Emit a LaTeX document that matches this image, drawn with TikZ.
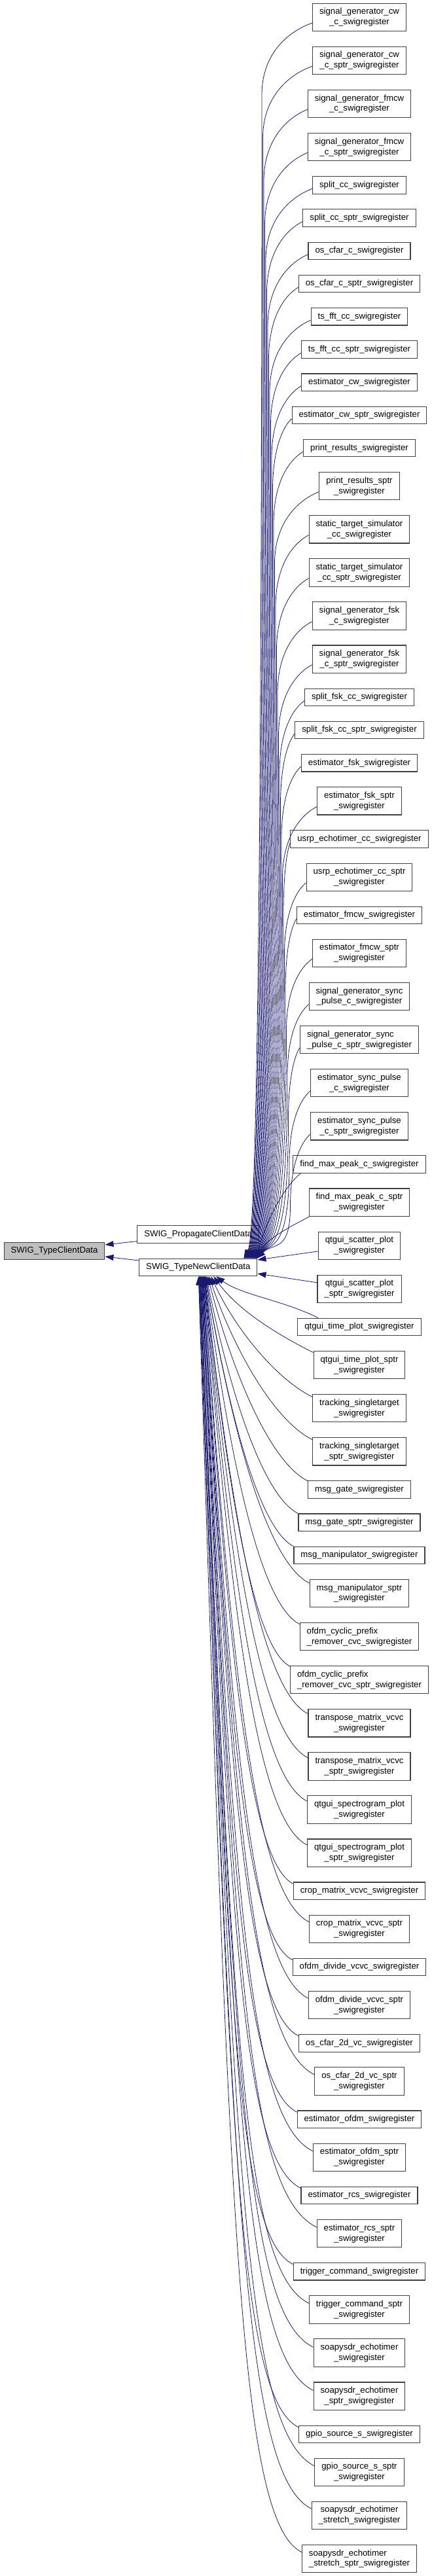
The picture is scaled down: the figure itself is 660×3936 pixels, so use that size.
\documentclass[tikz,border=0pt]{standalone}
\usepackage{fontspec}
\setmainfont{Liberation Sans}
\usetikzlibrary{arrows.meta,calc}
\definecolor{edgeblue}{HTML}{191970}
\definecolor{nodeline}{HTML}{404040}
\definecolor{nodegrey}{HTML}{BFBFBF}
\newcommand\nf{\fontsize{13.2pt}{15.9pt}\selectfont}
\tikzset{
 nbox/.style={draw=nodeline, line width=1.1pt, fill=white, inner xsep=10.5pt, inner ysep=0pt, align=center, font=\nf},
 sbox/.style={nbox, minimum height=26.43pt, text height=9.6pt, text depth=2.9pt},
 dbox/.style={nbox, minimum height=42.29pt},
 lbox/.style={dbox, align=left},
 cedge/.style={draw=edgeblue, line width=0.8pt, -{Triangle[length=13pt,width=9pt,fill=edgeblue]}}
}
% upper edge: #1 node, #2 exit fraction from bottom, #3 band x, #4 tip offset from TN.north
\newcommand\upedge[4]{%
 \draw[cedge] let \p1=($(#1.south west)!#2!(#1.north west)$), \p2=($(TN.north)+(#4pt,0pt)$), \p3=(#3pt,\y1-110pt) in
  (\p1) .. controls ({\x1-0.45*(\x1-\x3)}, \y1-12pt) and (\x3,\y1-45pt) .. (\p3)
  .. controls (\x3,{\y3+0.9*(\y2-\y3)}) and ({\x2+0.5*(\x3-\x2)}, \y2+25pt) .. (\p2);
}
% lower edge: #1 entry point, #2 tip offset from TN.south
\newcommand\lowedge[2]{%
 \draw[cedge] let \p1=(#1), \p2=($(TN.south)+(#2pt,0pt)$),
   \n1={\x1-\x2}, \n2={\y2-\y1}, \n3={min(1,max(0,(\n2-185)/1300))} in
   (\p1) .. controls ({\x1-(0.35+0.25*\n3)*\n1}, {\y1+0.5*(0.35+0.25*\n3)*\n1})
            and ({\x2+(0.25+0.05*\n3)*\n1}, {\y2-(0.45+0.3*\n3)*\n2}) .. (\p2);
}
\begin{document}
\begin{tikzpicture}[x=1pt,y=1pt]
\useasboundingbox (0,0) rectangle (660,-3936);
\node[sbox, fill=nodegrey] (TC) at (83,-1911.5) {SWIG\_TypeClientData};
\node[sbox] (PC) at (302.8,-1886) {SWIG\_PropagateClientData};
\node[sbox] (TN) at (302.8,-1936.5) {SWIG\_TypeNewClientData};

\node[dbox] (n1) at (549,-26.43) {signal\_generator\_cw\\\_c\_swigregister};
\node[dbox] (n2) at (549,-92.52) {signal\_generator\_cw\\\_c\_sptr\_swigregister};
\node[dbox] (n3) at (549,-158.60) {signal\_generator\_fmcw\\\_c\_swigregister};
\node[dbox] (n4) at (549,-224.69) {signal\_generator\_fmcw\\\_c\_sptr\_swigregister};
\node[sbox] (n5) at (549,-282.84) {split\_cc\_swigregister};
\node[sbox] (n6) at (549,-333.07) {split\_cc\_sptr\_swigregister};
\node[sbox] (n7) at (549,-383.29) {os\_cfar\_c\_swigregister};
\node[sbox] (n8) at (549,-433.51) {os\_cfar\_c\_sptr\_swigregister};
\node[sbox] (n9) at (549,-483.74) {ts\_fft\_cc\_swigregister};
\node[sbox] (n10) at (549,-533.96) {ts\_fft\_cc\_sptr\_swigregister};
\node[sbox] (n11) at (549,-584.19) {estimator\_cw\_swigregister};
\node[sbox] (n12) at (549,-634.41) {estimator\_cw\_sptr\_swigregister};
\node[sbox] (n13) at (549,-684.64) {print\_results\_swigregister};
\node[dbox] (n14) at (549,-742.79) {print\_results\_sptr\\\_swigregister};
\node[dbox] (n15) at (549,-808.87) {static\_target\_simulator\\\_cc\_swigregister};
\node[dbox] (n16) at (549,-874.96) {static\_target\_simulator\\\_cc\_sptr\_swigregister};
\node[dbox] (n17) at (549,-941.04) {signal\_generator\_fsk\\\_c\_swigregister};
\node[dbox] (n18) at (549,-1007.13) {signal\_generator\_fsk\\\_c\_sptr\_swigregister};
\node[sbox] (n19) at (549,-1065.28) {split\_fsk\_cc\_swigregister};
\node[sbox] (n20) at (549,-1115.51) {split\_fsk\_cc\_sptr\_swigregister};
\node[sbox] (n21) at (549,-1165.73) {estimator\_fsk\_swigregister};
\node[dbox] (n22) at (549,-1223.88) {estimator\_fsk\_sptr\\\_swigregister};
\node[sbox] (n23) at (549,-1282.04) {usrp\_echotimer\_cc\_swigregister};
\node[dbox] (n24) at (549,-1340.19) {usrp\_echotimer\_cc\_sptr\\\_swigregister};
\node[sbox] (n25) at (549,-1398.35) {estimator\_fmcw\_swigregister};
\node[dbox] (n26) at (549,-1456.50) {estimator\_fmcw\_sptr\\\_swigregister};
\node[dbox] (n27) at (549,-1522.59) {signal\_generator\_sync\\\_pulse\_c\_swigregister};
\node[lbox] (n28) at (549,-1588.67) {signal\_generator\_sync\\\_pulse\_c\_sptr\_swigregister};
\node[dbox] (n29) at (549,-1654.76) {estimator\_sync\_pulse\\\_c\_swigregister};
\node[dbox] (n30) at (549,-1720.84) {estimator\_sync\_pulse\\\_c\_sptr\_swigregister};
\node[sbox] (n31) at (549,-1778.99) {find\_max\_peak\_c\_swigregister};
\node[dbox] (n32) at (549,-1837.15) {find\_max\_peak\_c\_sptr\\\_swigregister};
\node[dbox] (n33) at (549,-1903.23) {qtgui\_scatter\_plot\\\_swigregister};
\node[dbox] (n34) at (549,-1969.32) {qtgui\_scatter\_plot\\\_sptr\_swigregister};
\node[sbox] (n35) at (549,-2027.47) {qtgui\_time\_plot\_swigregister};
\node[dbox] (n36) at (549,-2085.63) {qtgui\_time\_plot\_sptr\\\_swigregister};
\node[dbox] (n37) at (549,-2151.71) {tracking\_singletarget\\\_swigregister};
\node[dbox] (n38) at (549,-2217.80) {tracking\_singletarget\\\_sptr\_swigregister};
\node[sbox] (n39) at (549,-2275.95) {msg\_gate\_swigregister};
\node[sbox] (n40) at (549,-2326.17) {msg\_gate\_sptr\_swigregister};
\node[sbox] (n41) at (549,-2376.40) {msg\_manipulator\_swigregister};
\node[dbox] (n42) at (549,-2434.55) {msg\_manipulator\_sptr\\\_swigregister};
\node[lbox] (n43) at (549,-2500.64) {ofdm\_cyclic\_prefix\\\_remover\_cvc\_swigregister};
\node[lbox] (n44) at (549,-2566.72) {ofdm\_cyclic\_prefix\\\_remover\_cvc\_sptr\_swigregister};
\node[dbox] (n45) at (549,-2632.81) {transpose\_matrix\_vcvc\\\_swigregister};
\node[dbox] (n46) at (549,-2698.89) {transpose\_matrix\_vcvc\\\_sptr\_swigregister};
\node[dbox] (n47) at (549,-2764.98) {qtgui\_spectrogram\_plot\\\_swigregister};
\node[dbox] (n48) at (549,-2831.06) {qtgui\_spectrogram\_plot\\\_sptr\_swigregister};
\node[sbox] (n49) at (549,-2889.21) {crop\_matrix\_vcvc\_swigregister};
\node[dbox] (n50) at (549,-2947.37) {crop\_matrix\_vcvc\_sptr\\\_swigregister};
\node[sbox] (n51) at (549,-3005.52) {ofdm\_divide\_vcvc\_swigregister};
\node[dbox] (n52) at (549,-3063.67) {ofdm\_divide\_vcvc\_sptr\\\_swigregister};
\node[sbox] (n53) at (549,-3121.83) {os\_cfar\_2d\_vc\_swigregister};
\node[dbox] (n54) at (549,-3179.98) {os\_cfar\_2d\_vc\_sptr\\\_swigregister};
\node[sbox] (n55) at (549,-3238.14) {estimator\_ofdm\_swigregister};
\node[dbox] (n56) at (549,-3296.29) {estimator\_ofdm\_sptr\\\_swigregister};
\node[sbox] (n57) at (549,-3354.45) {estimator\_rcs\_swigregister};
\node[dbox] (n58) at (549,-3412.60) {estimator\_rcs\_sptr\\\_swigregister};
\node[sbox] (n59) at (549,-3470.76) {trigger\_command\_swigregister};
\node[dbox] (n60) at (549,-3528.91) {trigger\_command\_sptr\\\_swigregister};
\node[dbox] (n61) at (549,-3595.00) {soapysdr\_echotimer\\\_swigregister};
\node[dbox] (n62) at (549,-3661.08) {soapysdr\_echotimer\\\_sptr\_swigregister};
\node[sbox] (n63) at (549,-3719.24) {gpio\_source\_s\_swigregister};
\node[dbox] (n64) at (549,-3777.39) {gpio\_source\_s\_sptr\\\_swigregister};
\node[dbox] (n65) at (549,-3843.48) {soapysdr\_echotimer\\\_stretch\_swigregister};
\node[lbox] (n66) at (549,-3909.56) {soapysdr\_echotimer\\\_stretch\_sptr\_swigregister};

% middle to left
\draw[cedge] ($(PC.west)+(0,-10.5pt)$) -- ($(TC.east)+(0,9.5pt)$);
\draw[cedge] ($(TN.west)+(0,10.5pt)$) -- ($(TC.east)+(0,-8.5pt)$);

% upper callers
\foreach \i in {1,...,30} {
  \pgfmathsetmacro\xb{400+1.5*(\i-1)}
  \pgfmathsetmacro\tp{69.5+0.7*(\i-1)}
  \pgfmathsetmacro\ff{\i<27 ? 0.3 : 0.22}
  \upedge{n\i}{\ff}{\xb}{\tp}
}
\draw[cedge] let \p1=($(n31.south west)+(12pt,0pt)$), \p2=($(TN.north)+(88pt,0pt)$) in
  (\p1) .. controls (\x1-30pt,\y1-25pt) and (\x2+14pt,\y2+50pt) .. (\p2);
\draw[cedge] let \p1=($(n32.south west)+(1pt,0pt)$), \p2=($(TN.north)+(90pt,0pt)$) in
  (\p1) .. controls (\x1-28pt,\y1-15pt) and (\x2+14pt,\y2+30pt) .. (\p2);
\draw[cedge] ($(n33.south west)!0.3!(n33.north west)$) -- ($(TN.north east)+(0,-2.2pt)$);
\draw[cedge] ($(n34.north west)!0.28!(n34.south west)$) -- ($(TN.east)+(0,-9.5pt)$);

% lower callers
\lowedge{$(n35.north west)+(32pt,0pt)$}{27.5}
\foreach \i/\f/\tp in {36/0.06/23.5, 37/0.1/19.5, 38/0.08/16.5, 39/0.02/14.5, 40/0/12.5}{
  \lowedge{$(n\i.north west)!\f!(n\i.south west)$}{\tp}
}
\foreach \i/\f in {41/0, 42/0.14, 43/0.06, 44/0.02, 45/0.17, 46/0.2, 47/0.2, 48/0.22, 49/0.1,
   50/0.25, 51/0.1, 52/0.26, 53/0.1, 54/0.27, 55/0.1, 56/0.28, 57/0.1, 58/0.28, 59/0.1,
   60/0.28, 61/0.3, 62/0.3, 63/0.12, 64/0.28, 65/0.26, 66/0.27}{
  \pgfmathsetmacro\tp{11.5-0.44*(\i-41)}
  \lowedge{$(n\i.north west)!\f!(n\i.south west)$}{\tp}
}
\end{tikzpicture}
\end{document}
